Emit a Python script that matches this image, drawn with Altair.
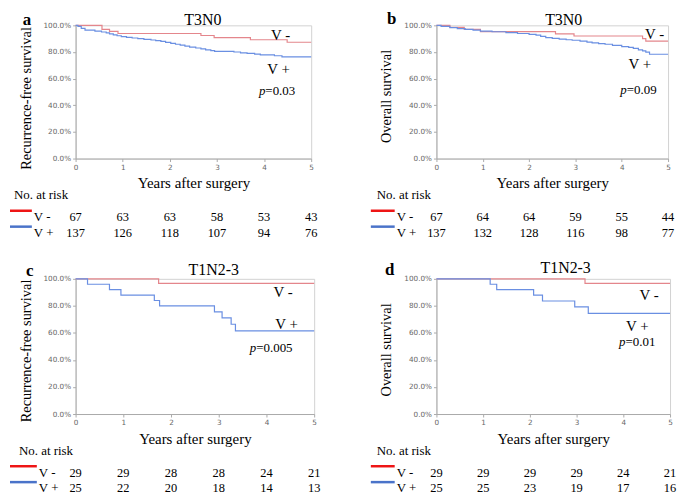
import altair as alt
import pandas as pd

YEARS = [0, 1, 2, 3, 4, 5]
Y_TICKS = [0.0, 0.2, 0.4, 0.6, 0.8, 1.0]
GROUPS = ["V -", "V +"]

# ---------------- panel a : T3N0, recurrence-free survival ----------------
a_neg_t = [0, 0.56, 0.72, 0.90, 2.66, 2.94, 3.71, 4.49, 5.0]
a_neg_s = [100, 97.0, 95.5, 93.9, 92.4, 90.8, 89.2, 87.3, 87.3]
a_pos_t = [0, 0.05, 0.12, 0.20, 0.41, 0.55, 0.65, 0.72, 0.80, 0.88, 0.97, 1.08,
           1.20, 1.32, 1.45, 1.60, 1.70, 1.81, 1.91, 2.02, 2.12, 2.22, 2.32,
           2.42, 2.55, 2.66, 2.76, 2.87, 2.95, 3.36, 3.50, 3.64, 3.80, 3.92,
           4.22, 4.38, 5.0]
a_pos_s = [100, 99.3, 97.8, 96.4, 95.7, 95.0, 94.3, 93.6, 92.9, 92.2, 91.5, 91.0,
           90.5, 90.0, 89.5, 89.0, 88.5, 88.0, 87.2, 86.5, 85.8, 85.1, 84.4,
           83.7, 83.0, 82.3, 81.6, 81.0, 80.5, 80.0, 79.4, 78.9, 78.4, 77.8,
           77.2, 76.3, 76.3]
a_risk_neg = [67, 63, 63, 58, 53, 43]
a_risk_pos = [137, 126, 118, 107, 94, 76]

# ---------------- panel b : T3N0, overall survival ----------------
b_neg_t = [0, 0.29, 0.60, 0.95, 2.57, 2.97, 4.45, 4.52, 5.0]
b_neg_s = [100, 98.5, 97.0, 95.3, 93.6, 92.0, 90.1, 88.2, 88.2]
b_pos_t = [0, 0.10, 0.29, 0.45, 0.62, 0.79, 0.95, 1.20, 1.50, 1.75, 2.00, 2.15,
           2.25, 2.36, 2.50, 2.65, 2.80, 2.93, 3.10, 3.25, 3.36, 3.50, 3.64,
           3.80, 4.00, 4.15, 4.25, 4.36, 4.45, 4.52, 4.60, 5.0]
b_pos_s = [100, 99.3, 98.3, 97.6, 97.0, 96.4, 95.7, 95.2, 94.5, 93.9, 93.3, 92.6,
           91.8, 90.8, 90.2, 89.6, 89.2, 88.8, 88.1, 87.4, 86.8, 86.3, 85.8,
           85.0, 84.1, 83.4, 82.7, 81.6, 80.8, 79.9, 78.3, 78.3]
b_risk_neg = [67, 64, 64, 59, 55, 44]
b_risk_pos = [137, 132, 128, 116, 98, 77]

# ---------------- panel c : T1N2-3, recurrence-free survival ----------------
c_neg_t = [0, 1.74, 5.0]
c_neg_s = [100, 96.6, 96.6]
c_pos_t = [0, 0.25, 0.71, 0.95, 1.65, 1.76, 2.91, 3.07, 3.26, 3.35, 5.0]
c_pos_s = [100, 96.0, 92.0, 88.0, 84.0, 80.0, 75.6, 71.1, 66.4, 61.5, 61.5]
c_risk_neg = [29, 29, 28, 28, 24, 21]
c_risk_pos = [25, 22, 20, 18, 14, 13]

# ---------------- panel d : T1N2-3, overall survival ----------------
d_neg_t = [0, 3.18, 5.0]
d_neg_s = [100, 96.6, 96.6]
d_pos_t = [0, 1.15, 1.29, 2.08, 2.27, 2.96, 3.25, 5.0]
d_pos_s = [100, 96.0, 92.0, 88.0, 83.6, 79.2, 74.5, 74.5]
d_risk_neg = [29, 29, 29, 29, 24, 21]
d_risk_pos = [25, 25, 23, 19, 17, 16]

# in-plot labels: (x in years, y in %)
a_lab = {"V -": (4.35, 93.0), "V +": (4.31, 67.2)}
b_lab = {"V -": (4.71, 93.7), "V +": (4.39, 70.8)}
c_lab = {"V -": (4.35, 90.3), "V +": (4.42, 66.6)}
d_lab = {"V -": (4.55, 88.3), "V +": (4.30, 65.4)}
a_p = (3.89, 51.0, "=0.03")
b_p = (3.97, 51.3, "=0.09")
c_p = (3.65, 48.8, "=0.005")
d_p = (3.91, 53.1, "=0.01")

RED_CURVE = "#e4868c"
BLUE_CURVE = "#6a8fe2"
RED_KEY = "#ee1515"
BLUE_KEY = "#4a73c9"
SERIF = "Liberation Serif"
SANS = "DejaVu Sans"


def panel(letter, title, ytitle, neg_t, neg_s, pos_t, pos_s, risk_neg, risk_pos,
          labels, pval, w, h, title_dx, title_y, letter_dx, letter_y, key_dx, ytitle_dy):
    curves = pd.DataFrame({
        "t": neg_t + pos_t,
        "s": [v / 100 for v in neg_s + pos_s],
        "g": ["V -"] * len(neg_t) + ["V +"] * len(pos_t),
    })
    xaxis = alt.Axis(values=YEARS, format="d", title="Years after surgery",
                     titleFont=SERIF, titleFontSize=15, titleFontWeight="normal",
                     titleColor="black", titlePadding=5,
                     labelFont=SANS, labelFontSize=7.3, labelColor="#666666",
                     labelPadding=2, tickSize=3, tickColor="#aaaaaa",
                     domainColor="#aaaaaa", grid=False, labelFlush=False,
                     labelOverlap=False)
    yaxis = alt.Axis(values=Y_TICKS, format=".1%",
                     title=ytitle, titleFont=SERIF, titleFontSize=14.5,
                     titleFontWeight="normal", titleColor="black", titlePadding=10,
                     titleY=h / 2 + ytitle_dy,
                     labelFont=SANS, labelFontSize=7.3, labelColor="#666666",
                     labelPadding=2, tickSize=3, tickColor="#aaaaaa",
                     domainColor="#aaaaaa", grid=False, labelOverlap=False,
                     labelFlush=False, labelBound=False)
    xs = alt.Scale(domain=[0, 5], nice=False, zero=False)
    ys = alt.Scale(domain=[0, 1], nice=False)
    xenc = alt.X("t:Q", scale=xs, axis=xaxis)
    yenc = alt.Y("s:Q", scale=ys, axis=yaxis)

    lines = alt.Chart(curves).mark_line(interpolate="step-after", strokeWidth=1.2).encode(
        x=xenc, y=yenc,
        color=alt.Color("g:N", scale=alt.Scale(domain=GROUPS, range=[RED_CURVE, BLUE_CURVE]),
                        legend=None),
    )
    lab_df = pd.DataFrame({
        "t": [labels[g][0] for g in GROUPS],
        "s": [labels[g][1] / 100 for g in GROUPS],
        "txt": GROUPS,
    })
    labs = alt.Chart(lab_df).mark_text(font=SERIF, fontSize=15, align="center",
                                       baseline="middle", color="black").encode(
        x=xenc, y=yenc, text="txt:N")
    p_df = pd.DataFrame({"t": [pval[0]], "s": [pval[1] / 100], "p": ["p"], "v": [pval[2]]})
    p1 = alt.Chart(p_df).mark_text(font=SERIF, fontSize=13, fontStyle="italic", align="left",
                                   baseline="middle", color="black").encode(
        x=xenc, y=yenc, text="p:N")
    p2 = alt.Chart(p_df).mark_text(font=SERIF, fontSize=13, align="left", dx=6.5,
                                   baseline="middle", color="black").encode(
        x=xenc, y=yenc, text="v:N")

    rn = pd.DataFrame({"t": YEARS, "n": [str(v) for v in risk_neg]})
    rp = pd.DataFrame({"t": YEARS, "n": [str(v) for v in risk_pos]})
    r1 = alt.Chart(rn).mark_text(font=SERIF, fontSize=12.5, align="center", color="black").encode(
        x=xenc, y=alt.value(h + 59), text="n:N")
    r2 = alt.Chart(rp).mark_text(font=SERIF, fontSize=12.5, align="center", color="black").encode(
        x=xenc, y=alt.value(h + 74.5), text="n:N")

    one = pd.DataFrame({"k": [0]})
    head = alt.Chart(pd.DataFrame({"txt": ["No. at risk"]})).mark_text(
        font=SERIF, fontSize=13, align="left", color="black").encode(
        x=alt.value(key_dx - 20), y=alt.value(h + 37), text="txt:N")
    kneg = alt.Chart(pd.DataFrame({"txt": ["V -"]})).mark_text(
        font=SERIF, fontSize=13, align="left", color="black").encode(
        x=alt.value(key_dx), y=alt.value(h + 59), text="txt:N")
    kpos = alt.Chart(pd.DataFrame({"txt": ["V +"]})).mark_text(
        font=SERIF, fontSize=13, align="left", color="black").encode(
        x=alt.value(key_dx), y=alt.value(h + 74.5), text="txt:N")
    lneg = alt.Chart(one).mark_rule(color=RED_KEY, strokeWidth=2.5).encode(
        x=alt.value(-66), x2=alt.value(key_dx - 2), y=alt.value(h + 52.5))
    lpos = alt.Chart(one).mark_rule(color=BLUE_KEY, strokeWidth=2.5).encode(
        x=alt.value(-66), x2=alt.value(key_dx - 2), y=alt.value(h + 68.5))

    ttl = alt.Chart(pd.DataFrame({"txt": [title]})).mark_text(
        font=SERIF, fontSize=16, align="center", color="black").encode(
        x=alt.value(w / 2 + title_dx), y=alt.value(title_y), text="txt:N")
    let = alt.Chart(pd.DataFrame({"txt": [letter]})).mark_text(
        font=SERIF, fontSize=17, fontWeight="bold", align="center", color="black").encode(
        x=alt.value(letter_dx), y=alt.value(letter_y), text="txt:N")

    return alt.layer(lines, labs, p1, p2, r1, r2, head, kneg, kpos, lneg, lpos, ttl, let).properties(
        width=w, height=h)


pa = panel("a", "T3N0", "Recurrence-free survival", a_neg_t, a_neg_s, a_pos_t, a_pos_s,
           a_risk_neg, a_risk_pos, a_lab, a_p, 237, 134, 9.5, -5, -49, -5.5, -42, 6)
pb = panel("b", "T3N0", "Overall survival", b_neg_t, b_neg_s, b_pos_t, b_pos_s,
           b_risk_neg, b_risk_pos, b_lab, b_p, 233, 134, 11.5, -5, -45, -6, -40, 4)
pc = panel("c", "T1N2-3", "Recurrence-free survival", c_neg_t, c_neg_s, c_pos_t, c_pos_s,
           c_risk_neg, c_risk_pos, c_lab, c_p, 240, 136, 19, -8.5, -46, -7.5, -37, 4)
pd_ = panel("d", "T1N2-3", "Overall survival", d_neg_t, d_neg_s, d_pos_t, d_pos_s,
            d_risk_neg, d_risk_pos, d_lab, d_p, 235, 136, 12.5, -10.5, -47, -9, -40, 3)

chart = alt.concat(pa, pb, pc, pd_, columns=2, spacing={"row": 121, "column": 123},
                   bounds="flush").resolve_scale(
    x="independent", y="independent", color="shared"
).configure_view(stroke="#d2d2d2", strokeWidth=1).configure_axis(
    labelOverlap=False
).properties(
    padding={"left": 0, "top": 0, "right": 0, "bottom": 0}, background="white")

chart.save("out.html", embed_options={"renderer": "svg", "actions": False})
